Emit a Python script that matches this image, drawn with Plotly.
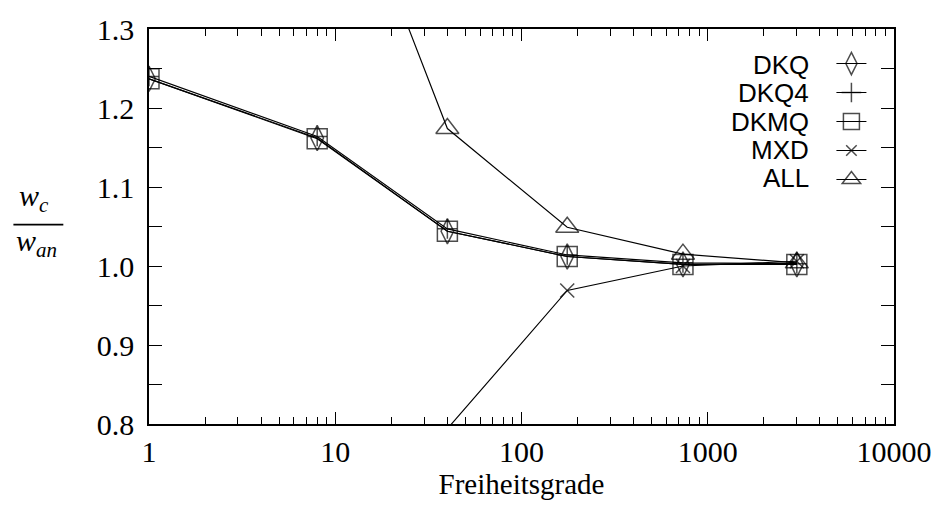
import plotly.graph_objects as go

# Degrees of freedom
dof = [1, 8, 40, 176, 736, 3008]
dof_mxd = [40, 176, 736, 3008]
dof_all = [8, 40, 176, 736, 3008]

dkq = [1.237, 1.162, 1.044, 1.012, 1.002, 1.002]
dkq4 = [1.240, 1.164, 1.047, 1.014, 1.004, 1.003]
dkmq = [1.237, 1.161, 1.044, 1.012, 1.002, 1.002]
mxd = [0.794, 0.969, 1.000, 1.006]
all_ = [1.60, 1.174, 1.049, 1.015, 1.004]

names = ["DKQ", "DKQ4", "DKMQ", "MXD", "ALL"]

x_ticks = [1, 10, 100, 1000, 10000]
x_ticktext = ["1", "10", "100", "1000", "10000"]

YMIN, YMAX = 0.8, 1.3

series = [
    (names[0], dof, dkq, "diamond-tall-open", 18),
    (names[1], dof, dkq4, "cross-thin-open", 14),
    (names[2], dof, dkmq, "square-open", 20),
    (names[3], dof_mxd, mxd, "x-thin-open", 14),
    (names[4], dof_all, all_, "triangle-up-open", 20),
]

fig = go.Figure()
for name, xs, ys, sym, sz in series:
    sizes = [sz if YMIN <= v <= YMAX else 0 for v in ys]
    fig.add_trace(go.Scatter(
        x=xs, y=ys, name=name, mode="lines+markers",
        line=dict(color="black", width=1.15),
        marker=dict(symbol=sym, size=sizes, color="black",
                    line=dict(color="black", width=1.5)),
        cliponaxis=True,
    ))

serif = "Liberation Serif, serif"
sans = "Liberation Sans, sans-serif"

fig.update_layout(
    width=944, height=514,
    margin=dict(l=149, r=45, t=23, b=90),
    paper_bgcolor="white", plot_bgcolor="white",
    showlegend=True,
    legend=dict(
        x=0.916, xanchor="left", y=0.962, yanchor="top",
        font=dict(family=sans, size=20, color="black"),
        bgcolor="rgba(0,0,0,0)", borderwidth=0,
        itemsizing="trace", tracegroupgap=0,
    ),
    xaxis=dict(
        type="log", range=[0, 4],
        tickvals=x_ticks, ticktext=x_ticktext,
        ticks="inside", ticklen=12, tickwidth=1.3, tickcolor="black",
        showline=True, linecolor="black", linewidth=1.5, mirror="allticks",
        showgrid=False, zeroline=False,
        tickfont=dict(family=serif, size=30, color="black"),
        ticklabelstandoff=0,
        minor=dict(ticks="inside", ticklen=7, tickwidth=1.2, tickcolor="black",
                   dtick="D1", showgrid=False),
        title=dict(text="Freiheitsgrade", font=dict(family=serif, size=29, color="black"),
                   standoff=2),
    ),
    yaxis=dict(
        range=[YMIN, YMAX], tick0=0.8, dtick=0.1, tickformat=".1f",
        ticks="inside", ticklen=13, tickwidth=1.3, tickcolor="black",
        showline=True, linecolor="black", linewidth=1.5, mirror="allticks",
        showgrid=False, zeroline=False,
        tickfont=dict(family=serif, size=30, color="black"),
        ticklabelstandoff=7,
        minor=dict(ticks="inside", ticklen=13, tickwidth=1.3, tickcolor="black",
                   tick0=0.8, dtick=0.05, showgrid=False),
    ),
)

# legend entries show only the samples; labels are drawn to their left (gnuplot style)
fig.update_traces(name=" ")

row_y = [0.91, 0.8375, 0.765, 0.6925, 0.6225]
for name, yy in zip(names, row_y):
    fig.add_annotation(
        x=0.888, y=yy, xref="paper", yref="paper", xanchor="right", yanchor="middle",
        text=name, showarrow=False,
        font=dict(family=sans, size=26, color="black"),
    )

# y-axis label as fraction w_c / w_an
fig.add_annotation(
    x=-0.155, y=0.572, xref="paper", yref="paper", xanchor="center", yanchor="middle",
    text="<i>w</i><sub><i>c</i></sub>", showarrow=False,
    font=dict(family=serif, size=30, color="black"),
)
fig.add_annotation(
    x=-0.151, y=0.457, xref="paper", yref="paper", xanchor="center", yanchor="middle",
    text="<i>w</i><sub><i>an</i></sub>", showarrow=False,
    font=dict(family=serif, size=30, color="black"),
)
fig.add_shape(
    type="line", xref="paper", yref="paper",
    x0=-0.182, x1=-0.115, y0=0.505, y1=0.505,
    line=dict(color="black", width=1.8),
)

fig.write_html("out.html")
